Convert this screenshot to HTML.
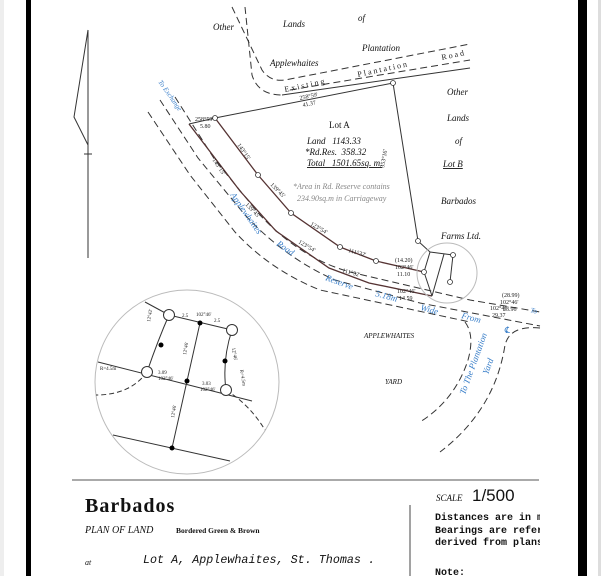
<!DOCTYPE html>
<html><head><meta charset="utf-8"><style>
html,body{margin:0;padding:0;background:#fff}
svg{display:block}
.s{font-family:"Liberation Serif",serif}
.m{font-family:"Liberation Mono",monospace}
.ss{font-family:"Liberation Sans",sans-serif}
</style></head><body>
<svg width="615" height="576" viewBox="0 0 615 576" xmlns="http://www.w3.org/2000/svg">
<rect width="615" height="576" fill="#fff"/>
<rect x="26" y="0" width="5" height="576" fill="#000"/>
<rect x="578" y="0" width="9" height="576" fill="#000"/>
<rect x="598" y="0" width="3" height="576" fill="#ddd"/>
<rect x="0" y="0" width="4" height="576" fill="#eee"/>

<g stroke="#333" stroke-width="1" fill="none">
<line x1="88" y1="30" x2="88" y2="258"/>
<polyline points="88,30 74,117 88,145"/>
<line x1="84" y1="154" x2="92" y2="154"/>
</g>

<g stroke="#333" stroke-width="1" fill="none" stroke-dasharray="7,4">
<path d="M232,7 L262,70 Q270,82 285,80 L470,44"/>
<path d="M290,90 L470,60"/>
<path d="M245,7 L252,75 Q258,95 282,95"/>
<path d="M282,95 L470,68" stroke-dasharray="none"/>
</g>

<g stroke="#333" stroke-width="1" fill="none" stroke-dasharray="7,4">
<path d="M175,97 L215,160 L260,215 Q300,258 350,272 L470,300 L540,312"/>
<path d="M160,100 L198,158 L245,215 Q285,258 335,280 L420,303 L540,326"/>
<path d="M148,112 L190,175 L235,232 Q270,270 320,290 L470,322"/>
<path d="M465,322 Q475,335 468,360 Q455,400 420,422"/>
<path d="M540,328 Q510,325 505,345 Q495,410 440,452"/>
</g>

<g stroke="#333" stroke-width="1" fill="none">
<line x1="215" y1="118" x2="393" y2="83"/>
<line x1="393" y1="83" x2="418" y2="241"/>
<polyline points="215,118 258,175 291,213 340,247 376,261 424,272" stroke="#533" stroke-width="1.3"/>
<polyline points="189,124 240,191 276,231 329,268 369,283 432,296" stroke="#533" stroke-width="1.3"/>
<line x1="189" y1="124" x2="215" y2="118"/>
<polyline points="418,241 430,252 424,272"/>
<line x1="424" y1="272" x2="432" y2="296"/>
<line x1="430" y1="252" x2="453" y2="255" />
<line x1="444" y1="254" x2="432" y2="296"/>
<line x1="453" y1="255" x2="450" y2="282"/>
<circle cx="447" cy="273" r="30" stroke="#bbb"/>
</g>
<g fill="#fff" stroke="#333" stroke-width="0.8">
<circle cx="215" cy="118" r="2.5"/><circle cx="393" cy="83" r="2.5"/>
<circle cx="258" cy="175" r="2.5"/><circle cx="291" cy="213" r="2.5"/>
<circle cx="340" cy="247" r="2.5"/><circle cx="376" cy="261" r="2.5"/>
<circle cx="424" cy="272" r="2.5"/><circle cx="418" cy="241" r="2.5"/>
<circle cx="453" cy="255" r="2.5"/><circle cx="450" cy="282" r="2.5"/>
</g>

<g class="s" font-style="italic" font-size="9" fill="#111">
<text x="213" y="30">Other</text>
<text x="283" y="27">Lands</text>
<text x="358" y="21">of</text>
<text x="362" y="51">Plantation</text>
<text x="270" y="66">Applewhaites</text>
<text x="447" y="95">Other</text>
<text x="447" y="121">Lands</text>
<text x="455" y="144">of</text>
<text x="443" y="167" text-decoration="underline">Lot B</text>
<text x="441" y="204">Barbados</text>
<text x="441" y="239">Farms Ltd.</text>
<text x="329" y="128" font-style="normal">Lot A</text>
<text x="307" y="144">Land &#160;&#160;1143.33</text>
<text x="305" y="155">*Rd.Res. &#160;358.32</text>
<text x="307" y="166" text-decoration="underline">Total &#160;&#160;1501.65sq. m.</text>
</g>
<g class="s" font-size="8" fill="#222" letter-spacing="2">
<text transform="translate(285,92) rotate(-12)">Existing</text>
<text transform="translate(358,77) rotate(-12)">Plantation</text>
<text transform="translate(442,60) rotate(-12)">Road</text>
</g>
<g class="s" font-size="6" fill="#222">
<text transform="translate(300,100) rotate(-12)">258°59'</text>
<text transform="translate(303,107) rotate(-12)">41.37</text>
<text transform="translate(195,121)">258°59'</text>
<text transform="translate(200,128)">5.80</text>
<text transform="translate(384,168) rotate(-80)">353°16'</text>
<text transform="translate(237,145) rotate(55)">143°15'</text>
<text transform="translate(212,160) rotate(55)">143°15'</text>
<text transform="translate(270,185) rotate(45)">139°45'</text>
<text transform="translate(245,205) rotate(45)">139°45'</text>
<text transform="translate(310,225) rotate(30)">123°54'</text>
<text transform="translate(298,243) rotate(30)">123°54'</text>
<text transform="translate(348,252) rotate(15)">111°32'</text>
<text transform="translate(342,272) rotate(15)">111°32'</text>
<text x="395" y="262">(14.20)</text><text x="395" y="269">102°46'</text><text x="397" y="276">11.10</text>
<text x="397" y="293">102°46'</text><text x="399" y="300">14.59</text>
<text x="502" y="297">(28.99)</text><text x="500" y="304">102°46'</text><text x="503" y="311">23.96</text>
<text x="490" y="310">102°46'</text><text x="492" y="317">29.37</text>
</g>
<g class="s" font-style="italic" font-size="8" fill="#888">
<text x="293" y="189">*Area in Rd. Reserve contains</text>
<text x="297" y="201">234.90sq.m in Carriageway</text>
</g>
<g class="s" font-style="italic" font-size="9" fill="#3a7fc9">
<text transform="translate(158,82) rotate(55)" font-size="7">To Exchange</text>
<text transform="translate(230,195) rotate(55)">Applewhaites</text>
<text transform="translate(276,245) rotate(35)">Road</text>
<text transform="translate(325,280) rotate(20)">Reserve</text>
<text transform="translate(375,296) rotate(15)">5.18m</text>
<text transform="translate(420,310) rotate(15)">Wide</text>
<text transform="translate(461,318) rotate(15)">From</text>
<text transform="translate(504,333)">℄</text>
<text transform="translate(530,312) rotate(15)" font-size="7">To</text>
<text transform="translate(465,395) rotate(-70)">To The Plantation</text>
<text transform="translate(488,375) rotate(-70)">Yard</text>
</g>
<g class="s" font-style="italic" font-size="7" fill="#111">
<text x="364" y="338">APPLEWHAITES</text>
<text x="385" y="384">YARD</text>
</g>

<g stroke="#333" stroke-width="1" fill="none">
<circle cx="187" cy="382" r="92" stroke="#bbb"/>
<line x1="145" y1="302" x2="169" y2="315"/>
<line x1="169" y1="315" x2="232" y2="330"/>
<polyline points="200,323 187,381 172,448"/>
<line x1="98" y1="362" x2="252" y2="401"/>
<path d="M169,315 Q158,340 147,372"/>
<path d="M232,330 Q222,360 226,390"/>
<line x1="113" y1="435" x2="230" y2="461"/>
<path d="M147,372 Q130,395 96,395" stroke-dasharray="5,3"/>
<path d="M226,390 Q250,405 265,430" stroke-dasharray="5,3"/>
</g>
<g fill="#fff" stroke="#333">
<circle cx="169" cy="315" r="5.5"/><circle cx="232" cy="330" r="5.5"/>
<circle cx="147" cy="372" r="5.5"/><circle cx="226" cy="390" r="5.5"/>
</g>
<g fill="#000">
<circle cx="200" cy="323" r="2.5"/><circle cx="161" cy="345" r="2.5"/>
<circle cx="225" cy="361" r="2.5"/><circle cx="187" cy="381" r="2.5"/>
<circle cx="172" cy="448" r="2.5"/>
</g>
<g class="s" font-size="5" fill="#222">
<text x="182" y="317">2.5</text><text x="196" y="316">102°46'</text><text x="214" y="322">2.5</text>
<text transform="translate(150,322) rotate(-80)">12°42'</text>
<text transform="translate(186,355) rotate(-80)">12°46'</text>
<text transform="translate(174,418) rotate(-80)">12°46'</text>
<text transform="translate(232,348) rotate(80)">12°46'</text>
<text x="158" y="374">3.09</text><text x="158" y="380">102°46'</text>
<text x="202" y="385">3.03</text><text x="200" y="391">102°46'</text>
<text x="100" y="370">R=4.5m</text><text x="240" y="370" transform="rotate(80,240,370)">R=4.5m</text>
</g>

<line x1="72" y1="480" x2="539" y2="480" stroke="#555" stroke-width="1"/>
<line x1="410" y1="505" x2="410" y2="576" stroke="#444" stroke-width="1"/>
<text class="s" x="85" y="512" font-weight="bold" font-size="20" fill="#111" letter-spacing="1">Barbados</text>
<text class="s" x="85" y="533" font-style="italic" font-size="10" fill="#111">PLAN OF LAND</text>
<text class="s" x="176" y="533" font-size="7.5" fill="#111" font-weight="bold">Bordered Green &amp; Brown</text>
<text class="s" x="85" y="565" font-style="italic" font-size="8" fill="#111">at</text>
<text class="m" x="143" y="563" font-style="italic" font-size="12" fill="#111" textLength="232" lengthAdjust="spacingAndGlyphs">Lot A, Applewhaites, St. Thomas .</text>
<svg x="430" y="485" width="110" height="91">
<text class="s" x="6" y="16" font-style="italic" font-size="9" fill="#111">SCALE</text>
<text class="ss" x="42" y="16" font-size="17" fill="#111">1/500</text>
<g class="m" font-weight="bold" font-size="10" fill="#111">
<text x="5" y="35">Distances are in m</text>
<text x="5" y="48">Bearings are refer</text>
<text x="5" y="60">derived from plans</text>
<text x="5" y="90">Note:</text>
</g>
</svg>
</svg>
</body></html>
